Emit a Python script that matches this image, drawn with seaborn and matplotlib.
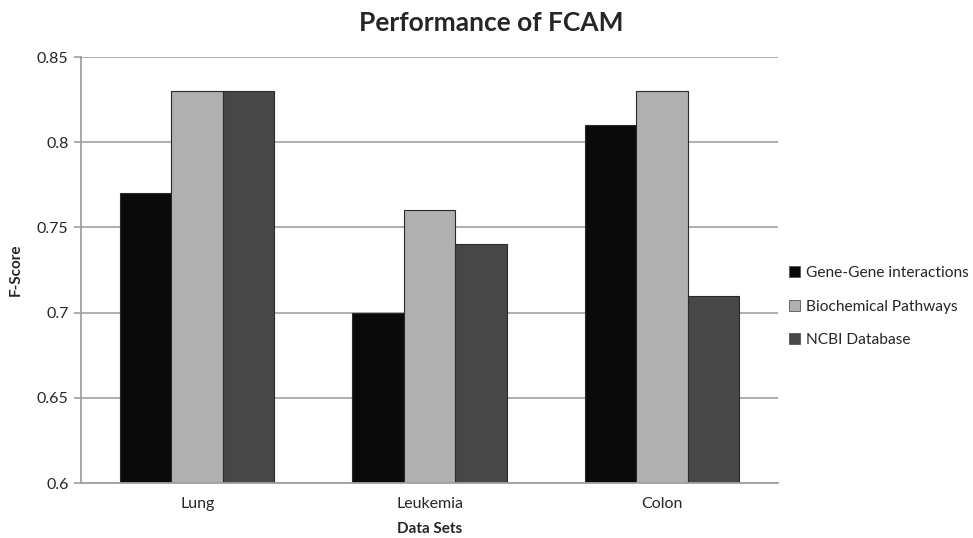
import matplotlib
matplotlib.use("Agg")
import matplotlib.pyplot as plt
import seaborn as sns
import pandas as pd
from matplotlib.patches import Patch

# Data
datasets = ["Lung", "Leukemia", "Colon"]
series_names = ["Gene-Gene interactions", "Biochemical Pathways", "NCBI Database"]
gene_gene = [0.77, 0.70, 0.81]
biochemical = [0.83, 0.76, 0.83]
ncbi = [0.83, 0.74, 0.71]
y_ticks = [0.6, 0.65, 0.7, 0.75, 0.8, 0.85]

colors = ["#0a0a0a", "#b0b0b0", "#474747"]

rows = []
for name, vals in zip(series_names, [gene_gene, biochemical, ncbi]):
    for ds, v in zip(datasets, vals):
        rows.append({"Data Sets": ds, "F-Score": v, "Series": name})
df = pd.DataFrame(rows)

sns.set_style("white")
plt.rcParams["font.family"] = ["Lato", "DejaVu Sans"]

fig = plt.figure(figsize=(9.73, 5.38), dpi=100)
ax = fig.add_axes([0.0833, 0.1022, 0.7163, 0.7918])

sns.barplot(data=df, x="Data Sets", y="F-Score", hue="Series",
            hue_order=series_names, order=datasets, palette=colors,
            width=0.665, gap=0, ax=ax, legend=False,
            edgecolor="#2a2a2a", linewidth=0.8)

ax.set_ylim(0.6, 0.85)
ax.set_xlim(-0.5, 2.5)
ax.set_yticks(y_ticks)
ax.set_yticklabels([f"{t:g}" for t in y_ticks], fontsize=11.5)
ax.tick_params(axis="y", length=5, color="#a0a0a0", width=1.2, pad=4, left=True)
ax.tick_params(axis="x", length=0, pad=10, labelsize=11.5)
ax.yaxis.grid(True, color="#a8a8a8", linewidth=1.3)
ax.set_axisbelow(True)

for side in ["top", "right"]:
    ax.spines[side].set_visible(False)
for side in ["left", "bottom"]:
    ax.spines[side].set_color("#a0a0a0")
    ax.spines[side].set_linewidth(1.3)

ax.set_ylabel("F-Score", fontsize=11, fontweight="bold", labelpad=10)
ax.set_xlabel("Data Sets", fontsize=11, fontweight="bold", labelpad=8)

fig.suptitle("Performance of FCAM", fontsize=19, fontweight="bold", x=0.505, y=0.98)

handles = [Patch(facecolor=c, edgecolor="#555555", linewidth=0.6) for c in colors]
fig.legend(handles, series_names, loc="center left", bbox_to_anchor=(0.811, 0.43),
           frameon=False, fontsize=11.2, handlelength=0.7, handleheight=0.7,
           handletextpad=0.4, labelspacing=1.25, borderpad=0, borderaxespad=0)

fig.savefig("out.png", dpi=100)
